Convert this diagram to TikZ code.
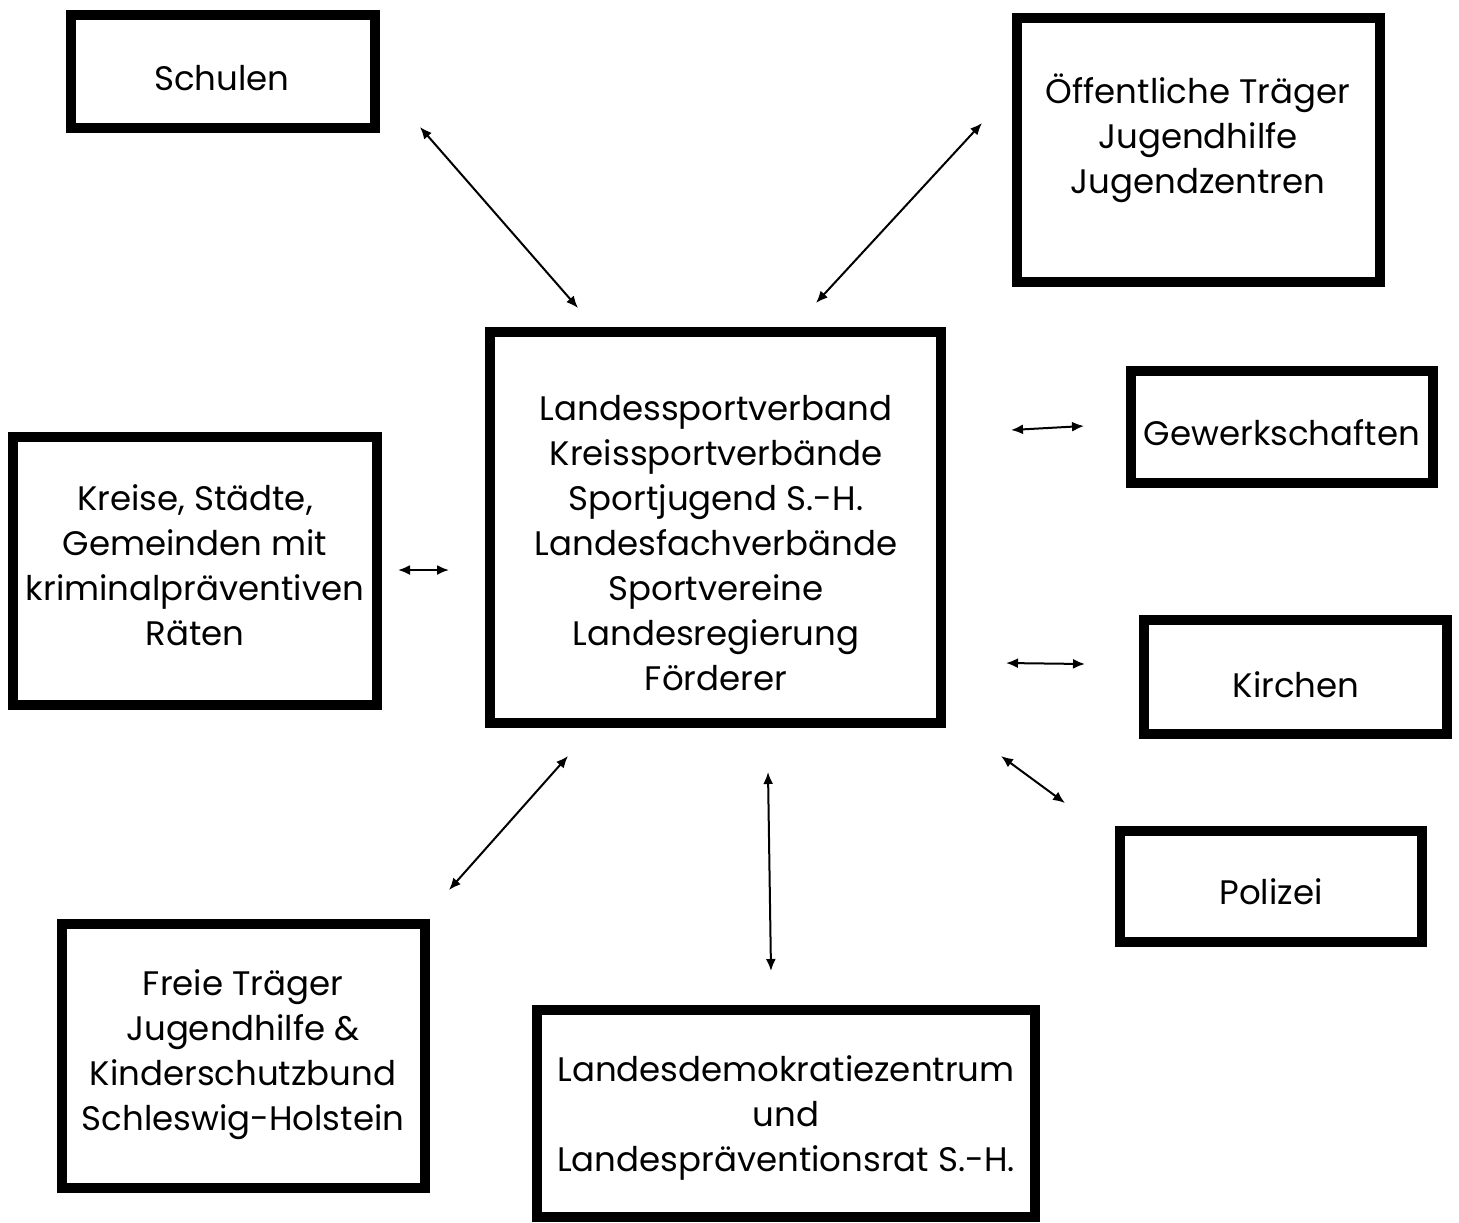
\documentclass[tikz,border=0pt]{standalone}
\usepackage{fontspec}
\setmainfont{Poppins}
\usetikzlibrary{arrows.meta}
\begin{document}
\begin{tikzpicture}[x=0.5pt,y=-0.5pt,
  box/.style={draw=black, line width=5.25pt, rectangle, inner sep=0pt},
  txt/.style={align=center, inner sep=0pt, font=\fontsize{17}{22.5}\selectfont},
  link/.style={line width=1pt, {Latex[length=6pt,width=5pt]}-{Latex[length=6pt,width=5pt]}}]
\useasboundingbox[fill=white] (0,0) rectangle (1459,1222);
% boxes
\node[box, minimum width=152pt, minimum height=56.5pt] (schulen) at (223,71.5) {};
\node[box, minimum width=181.5pt, minimum height=132pt] (oeff) at (1198.5,150) {};
\node[box, minimum width=225.5pt, minimum height=195.5pt] (lsv) at (715.5,527.5) {};
\node[box, minimum width=151pt, minimum height=56pt] (gewerk) at (1282,427) {};
\node[box, minimum width=182pt, minimum height=134pt] (kreise) at (195,571) {};
\node[box, minimum width=151.5pt, minimum height=57pt] (kirchen) at (1295.5,677) {};
\node[box, minimum width=151pt, minimum height=55.5pt] (polizei) at (1271,886.5) {};
\node[box, minimum width=181.5pt, minimum height=132pt] (freie) at (243.5,1056) {};
\node[box, minimum width=249pt, minimum height=103.5pt] (demo) at (786,1113.5) {};
% texts
\node[txt] (schulenT) at (222,78) {Schulen};
\node[txt] (oeffT) at (1198,138) {Öffentliche Träger\\Jugendhilfe\\Jugendzentren};
\node[txt] (lsvT) at (716,543) {Landessportverband\\Kreissportverbände\\Sportjugend S.-H.\\Landesfachverbände\\Sportvereine\\Landesregierung\\Förderer};
\node[txt] (gewerkT) at (1282,433) {Gewerkschaften};
\node[txt] (kreiseT) at (195,565) {Kreise, Städte,\\Gemeinden mit\\kriminalpräventiven\\Räten};
\node[txt] (kirchenT) at (1296,685) {Kirchen};
\node[txt] (polizeiT) at (1271,892) {Polizei};
\node[txt] (freieT) at (243,1055) {Freie Träger\\Jugendhilfe \&\\Kinderschutzbund\\Schleswig-Holstein};
\node[txt] (demoT) at (786,1118) {Landesdemokratiezentrum\\und\\Landespräventionsrat S.-H.};
% arrow endpoints
\coordinate (a1) at (420,127); \coordinate (b1) at (578,308);
\coordinate (a2) at (982,123); \coordinate (b2) at (816,303);
\coordinate (a3) at (1011,430); \coordinate (b3) at (1084,426);
\coordinate (a4) at (398,570); \coordinate (b4) at (449,570);
\coordinate (a5) at (1006,663); \coordinate (b5) at (1085,664);
\coordinate (a6) at (1001,756); \coordinate (b6) at (1065,803);
\coordinate (a7) at (568,756); \coordinate (b7) at (449,890);
\coordinate (a8) at (768,772); \coordinate (b8) at (771,971);
\foreach \i in {1,...,8} \draw[link] (a\i) -- (b\i);
\end{tikzpicture}
\end{document}
